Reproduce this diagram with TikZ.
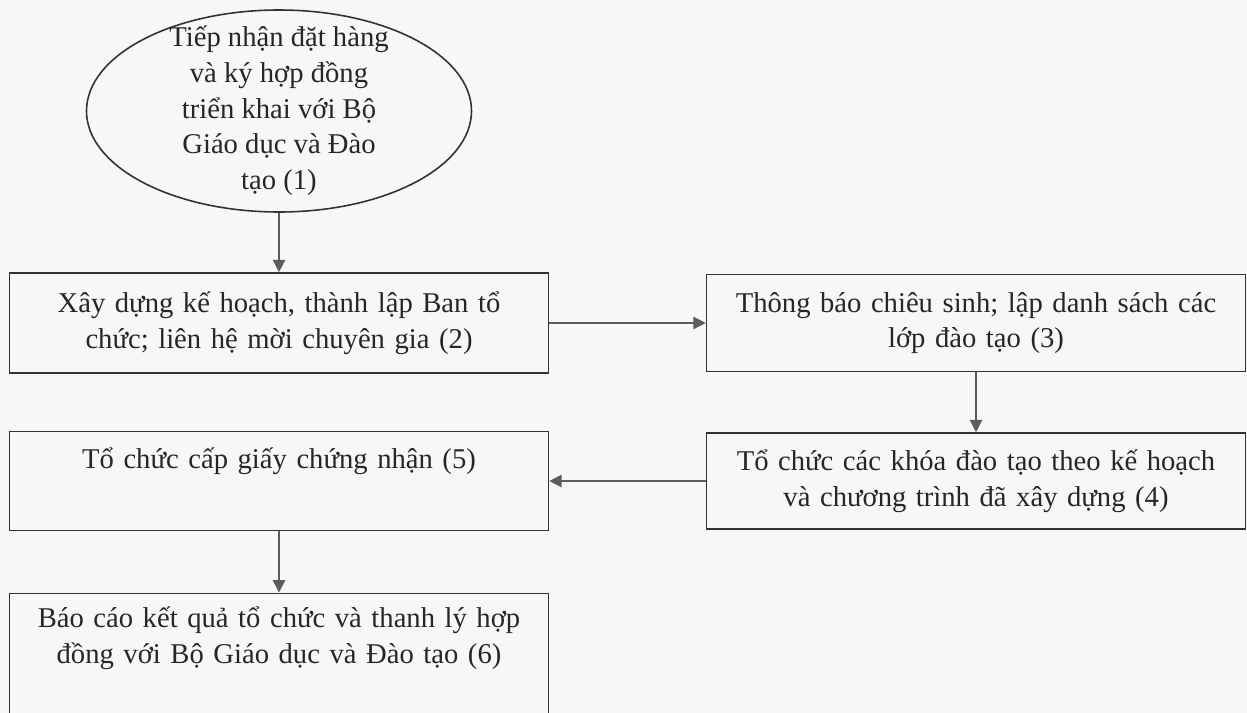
\documentclass[tikz,border=0pt]{standalone}
\usepackage{fontspec}
\setmainfont{Liberation Serif}
\usetikzlibrary{shapes.geometric,arrows.meta}
\definecolor{linegray}{RGB}{50,50,50}
\definecolor{arrowgray}{RGB}{92,92,92}
\definecolor{textgray}{RGB}{38,38,38}
\definecolor{papergray}{RGB}{247,247,249}

\begin{document}
\begin{tikzpicture}
[ellipsedecorate/.style={shape=ellipse,draw=linegray,line width=0.9pt,align=center,
    inner xsep=0pt,inner ysep=-0.6cm,minimum width=7.7cm,minimum height=4.04cm},%
  boxdecorate/.style={shape=rectangle,draw=linegray,line width=0.9pt,align=center,
    inner sep=0pt,text width=10.78cm,minimum height=1.96cm},
  linedecorate/.style={-{Triangle[length=7pt,width=7pt]},draw=arrowgray,line width=0.8pt},
  every node/.style={text=textgray,font=\fontsize{16.3}{20.3}\selectfont}]
\useasboundingbox (0,0) rectangle (24.94,-14.26);
\fill[papergray] (0,0) rectangle (24.94,-14.26);
%% nodes or steps
\node (e1) at (5.58,-2.22) [ellipsedecorate]
  {Tiếp nhận đặt hàng\\và ký hợp đồng\\triển khai với Bộ\\Giáo dục và Đào\\tạo (1)};
\node (b2) at (5.58,-6.46) [boxdecorate,minimum height=2cm]
  {Xây dựng kế hoạch, thành lập Ban tổ\\chức; liên hệ mời chuyên gia (2)};
\node (b3) at (19.52,-6.46) [boxdecorate,minimum height=1.94cm]
  {Thông báo chiêu sinh; lập danh sách các\\lớp đào tạo (3)};
\node (b4) at (19.52,-9.62) [boxdecorate,minimum height=1.92cm]
  {Tổ chức các khóa đào tạo theo kế hoạch\\và chương trình đã xây dựng (4)};
\node (b5) at (5.58,-9.62) [boxdecorate,text height=21pt,text depth=35.2pt]
  {Tổ chức cấp giấy chứng nhận (5)};
\node (b6) at (5.58,-13.46) [boxdecorate,text height=19.5pt,text depth=71.2pt]
  {Báo cáo kết quả tổ chức và thanh lý hợp\\đồng với Bộ Giáo dục và Đào tạo (6)};
%% edges or arrows
\path
\foreach \startnode/\endnode in {e1/b2, b2/b3, b3/b4, b4/b5, b5/b6} {
  (\startnode) edge[linedecorate] (\endnode)
};
\end{tikzpicture}
\end{document}
